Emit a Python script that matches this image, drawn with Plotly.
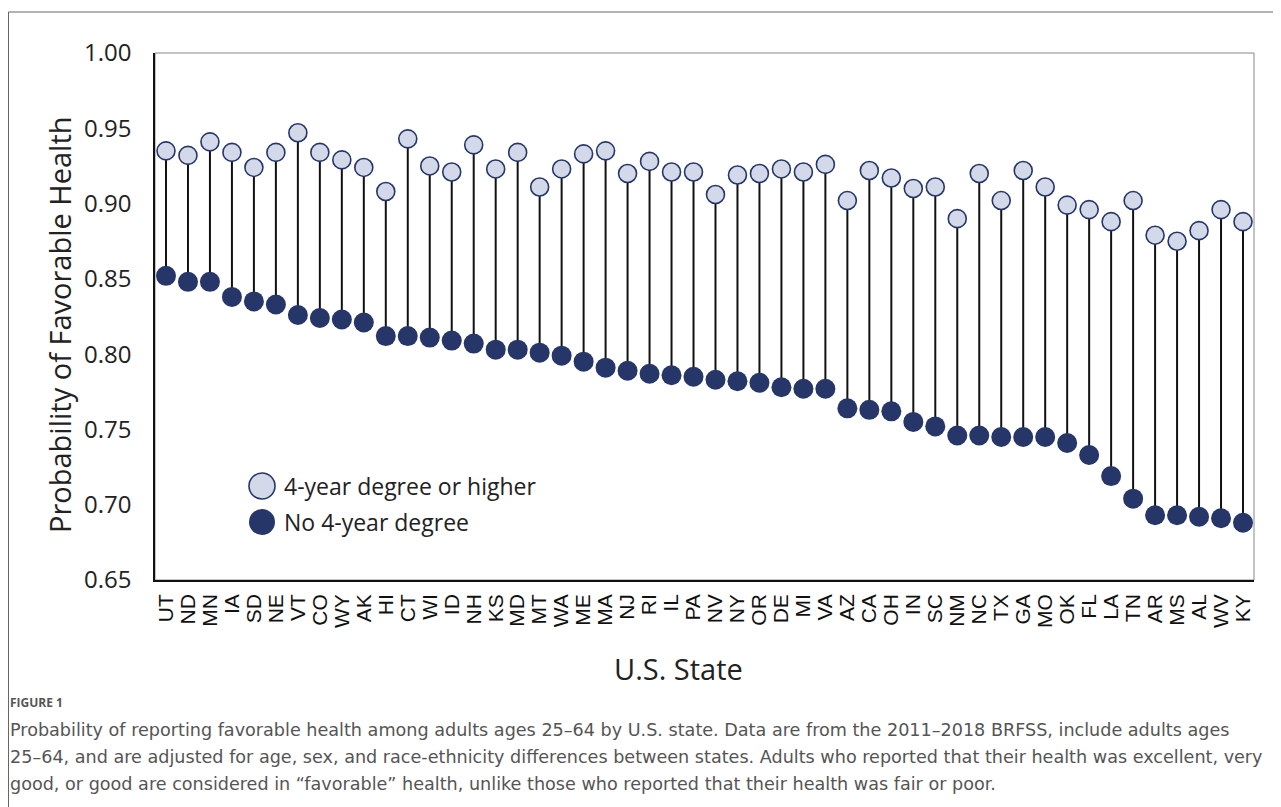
import plotly.graph_objects as go

states = ["UT","ND","MN","IA","SD","NE","VT","CO","WY","AK","HI","CT","WI","ID","NH","KS","MD","MT","WA","ME",
          "MA","NJ","RI","IL","PA","NV","NY","OR","DE","MI","VA","AZ","CA","OH","IN","SC","NM","NC","TX","GA",
          "MO","OK","FL","LA","TN","AR","MS","AL","WV","KY"]
degree = [0.935,0.932,0.941,0.934,0.924,0.934,0.947,0.934,0.929,0.924,0.908,0.943,0.925,0.921,0.939,0.923,0.934,0.911,0.923,0.933,
          0.935,0.920,0.928,0.921,0.921,0.906,0.919,0.920,0.923,0.921,0.926,0.902,0.922,0.917,0.910,0.911,0.890,0.920,0.902,0.922,
          0.911,0.899,0.896,0.888,0.902,0.879,0.875,0.882,0.896,0.888]
no_degree = [0.852,0.848,0.848,0.838,0.835,0.833,0.826,0.824,0.823,0.821,0.812,0.812,0.811,0.809,0.807,0.803,0.803,0.801,0.799,0.795,
             0.791,0.789,0.787,0.786,0.785,0.783,0.782,0.781,0.778,0.777,0.777,0.764,0.763,0.762,0.755,0.752,0.746,0.746,0.745,0.745,
             0.745,0.741,0.733,0.719,0.704,0.693,0.693,0.692,0.691,0.688]
y_ticks = [0.65,0.70,0.75,0.80,0.85,0.90,0.95,1.00]
series_names = ["4-year degree or higher", "No 4-year degree"]

navy = "#263669"
light = "#d3d9e8"

# stems
sx, sy = [], []
for s, lo, hi in zip(states, no_degree, degree):
    sx += [s, s, None]
    sy += [lo, hi, None]

fig = go.Figure()
fig.add_trace(go.Scatter(x=sx, y=sy, mode="lines", line=dict(color="#111111", width=2),
                         showlegend=False, hoverinfo="skip"))
fig.add_trace(go.Scatter(x=states, y=degree, mode="markers", name=series_names[0], showlegend=False,
                         marker=dict(size=18, color=light, line=dict(color=navy, width=1.6))))
fig.add_trace(go.Scatter(x=states, y=no_degree, mode="markers", name=series_names[1], showlegend=False,
                         marker=dict(size=20, color=navy, line=dict(color=navy, width=0))))

# page has an 8px body margin; figure coords = page coords - 8
OFF = 8
W, H = 1273, 799
L, T = 155 - OFF, 53 - OFF
R = W - (1254 - OFF)
B = H - (580 - OFF)
pw, ph = W - L - R, H - T - B

def px(x):
    return (x - OFF - L) / pw

def py(y):
    return (H - B - (y - OFF)) / ph

legend_rows = [(486, light, 1.6), (522, navy, 0)]
shapes = [
    dict(type="rect", xref="paper", yref="paper", x0=0, x1=1, y0=0, y1=1,
         line=dict(color="#888888", width=1), layer="below"),
    dict(type="line", xref="paper", yref="paper", x0=px(8.5), x1=px(1300), y0=py(12), y1=py(12),
         line=dict(color="#666666", width=1)),
    dict(type="line", xref="paper", yref="paper", x0=px(8.5), x1=px(8.5), y0=py(12), y1=py(830),
         line=dict(color="#666666", width=1)),
]
annotations = []
for (yy, col, lw), name in zip(legend_rows, series_names):
    shapes.append(dict(type="circle", xref="paper", yref="paper", xsizemode="pixel", ysizemode="pixel",
                       xanchor=px(262), yanchor=py(yy), x0=-13, x1=13, y0=-13, y1=13,
                       fillcolor=col, line=dict(color=navy, width=lw)))
    annotations.append(dict(text=name, xref="paper", yref="paper", x=px(282), y=py(yy), showarrow=False,
                            font=dict(size=23, family="Open Sans", color="#222222"),
                            xanchor="left", yanchor="middle"))

caption = [
    "Probability of reporting favorable health among adults ages 25–64 by U.S. state. Data are from the 2011–2018 BRFSS, include adults ages",
    "25–64, and are adjusted for age, sex, and race-ethnicity differences between states. Adults who reported that their health was excellent, very",
    "good, or good are considered in “favorable” health, unlike those who reported that their health was fair or poor.",
]
for i, line in enumerate(caption):
    annotations.append(dict(text=line, xref="paper", yref="paper", x=px(8), y=py(730 + 27 * i), showarrow=False,
                            font=dict(size=17.6, family="DejaVu Sans", color="#555555"),
                            xanchor="left", yanchor="middle"))

annotations += [
    dict(text="Probability of Favorable Health", xref="paper", yref="paper",
         x=px(59), y=py(325), textangle=-90, showarrow=False,
         font=dict(size=29, family="Open Sans", color="#222222"), xanchor="center", yanchor="middle"),
    dict(text="U.S. State", xref="paper", yref="paper", x=px(678), y=py(668), showarrow=False,
         font=dict(size=29, family="Open Sans", color="#222222"), xanchor="center", yanchor="middle"),
    dict(text="<b>FIGURE 1</b>", xref="paper", yref="paper", x=px(8), y=py(702), showarrow=False,
         font=dict(size=12, family="Open Sans", color="#555555"), xanchor="left", yanchor="middle"),
]

fig.update_layout(
    width=W, height=H,
    margin=dict(l=L, r=R, t=T, b=B, pad=0),
    paper_bgcolor="white", plot_bgcolor="white",
    font=dict(family="Open Sans", color="#222222"),
    showlegend=False,
    xaxis=dict(type="category", categoryorder="array", categoryarray=states,
               tickmode="array", tickvals=states, ticktext=states,
               range=[-0.5, len(states) - 0.5], tickangle=-90,
               tickfont=dict(family="Liberation Sans", size=21, color="#111111"),
               showline=True, linecolor="#111111", linewidth=1.5, ticklabelstandoff=4,
               showgrid=False, ticks="", zeroline=False),
    yaxis=dict(range=[0.65, 1.00], tickvals=y_ticks, ticktext=[f"{v:.2f}" for v in y_ticks],
               tickfont=dict(family="Open Sans", size=24, color="#222222"),
               showline=True, linecolor="#111111", linewidth=1.5,
               showgrid=False, ticks="", zeroline=False, ticklabelstandoff=17),
    shapes=shapes,
    annotations=annotations,
)

fig.write_html("out.html")
